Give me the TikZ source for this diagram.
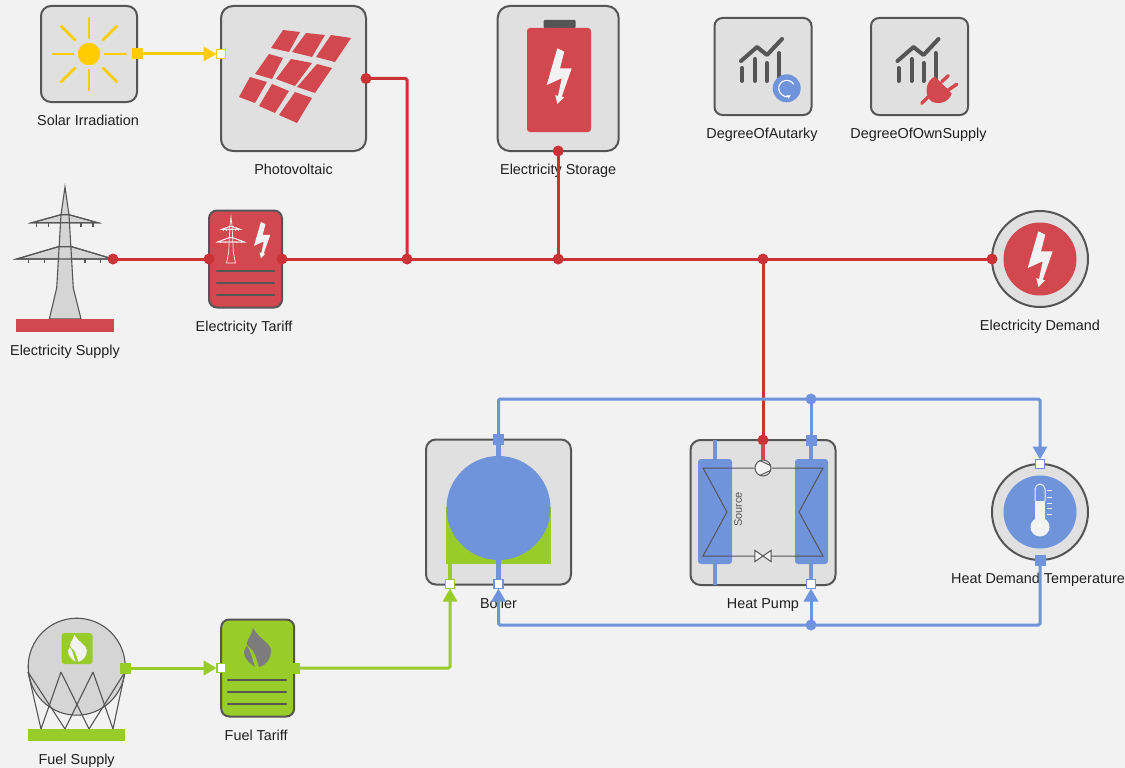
\documentclass[tikz,border=0pt]{standalone}
\usepackage{fontspec}
\setmainfont{Liberation Sans}
\usetikzlibrary{arrows.meta, calc, positioning}

\definecolor{bgcol}{HTML}{F2F2F2}
\definecolor{boxcol}{HTML}{E0E0E0}
\definecolor{darkcol}{HTML}{555555}
\definecolor{redfill}{HTML}{D3484E}
\definecolor{redline}{HTML}{CB3235}
\definecolor{bluecol}{HTML}{6F94DC}
\definecolor{greencol}{HTML}{98CC28}
\definecolor{sunncol}{HTML}{FFCC00}

\begin{document}
\begin{tikzpicture}[
        x=1pt, y=-1pt,
        node distance = 13pt,
        base/.style = {draw=darkcol, line width=2pt, fill=boxcol, outer sep=0pt, inner sep=0pt},
        block/.style = {base, rectangle, rounded corners=#1},
        block/.default = 10pt,
        ring/.style = {base, circle, minimum size=96pt},
        core/.style = {circle, fill=#1, minimum size=73pt, inner sep=0pt},
        lbl/.style = {font=\fontsize{14.4}{16}\selectfont, text=black!88, inner sep=0pt,
                      text height=10.3pt, text depth=3pt},
        portfull/.style = {rectangle, fill=#1, minimum size=11pt, inner sep=0pt, outer sep=-1.5pt},
        portopen/.style = {rectangle, draw=#1, fill=white, line width=1.8pt, minimum size=9pt,
                           inner sep=0pt, outer sep=0pt},
        portdot/.style = {circle, fill=#1, minimum size=11pt, inner sep=0pt, outer sep=-1.5pt},
        conn/.style = {draw=#1, line width=3pt, rounded corners=1.5pt},
        flow/.style = {conn=#1, -{Triangle[length=13pt,width=14pt]}},
        stub/.style = {draw=#1, line width=4.4pt},
        listline/.style = {draw=darkcol, line width=2.4pt, line cap=round},
        cycleline/.style = {draw=darkcol, line width=1pt},
        bolt/.pic = {\path[pic actions] (-1.7,-27.7) -- (5.3,-24.3) -- (1,-7.7) -- (12.7,-7.7)
                -- (2.7,20.7) -- (5,21.3) -- (-1.7,28) -- (-3.7,19) -- (-1,20) -- (2.7,2.3)
                -- (-12.3,9) -- cycle;},
        flame/.pic = {\path[pic actions] (-4,-20) .. controls (-6,-9) and (-14,-6) .. (-8,-1)
                .. controls (-2,3) and (-1,10) .. (2,19) .. controls (10,17) and (14,10) .. (14,3)
                .. controls (14,-5) and (3,-8) .. (-4,-20) -- cycle;
            \path[pic actions] (-10,-2) .. controls (-15,3) and (-14,11) .. (-2,19)
                .. controls (-5,12) and (-5,5) .. (-10,-2) -- cycle;},
        pylon/.pic = {
            \path[pic actions] (-33,-96.3) -- (-4,-104.3) -- (4,-104.3) -- (32.7,-96.3) -- cycle;
            \path[pic actions] (-48.3,-60) -- (-6.7,-72.3) -- (6.7,-72.3) -- (48,-60) -- cycle;
            \path[pic actions] (0,-132) -- (-4,-104) -- (-8.3,-31) -- (-15.7,0) -- (16,0)
                -- (8.3,-31) -- (4,-104) -- cycle;
            \path[pic actions, fill=none] (-33,-96.3) -- (-4,-104.3) -- (4,-104.3) -- (32.7,-96.3) -- cycle;
            \path[pic actions, fill=none] (-48.3,-60) -- (-6.7,-72.3) -- (6.7,-72.3) -- (48,-60) -- cycle;
            \foreach \xa in {-28.3,-16.3,16,28}
                \path[pic actions] (\xa,-96.3) -- ++(0,4);
            \foreach \xa in {-36.7,-20.7,20,35.7}
                \path[pic actions] (\xa,-60) -- ++(0,4);},
        chart/.pic = {
            \foreach \xa/\ya in {0/-13,13/-22,25/-18,37/-28}
                \draw[darkcol, line width=4pt, line cap=round] (\xa,0) -- (\xa,\ya);
            \draw[darkcol, line width=4pt, line cap=round, line join=round]
                (-1,-20) -- (15,-34) -- (25,-26) -- (40,-42);},
        ]
    \useasboundingbox (0,0) rectangle (1125,768);
    \fill[bgcol] (0,0) rectangle (1125,768);

    % sources and storage on top
    \node [block, minimum size=96pt] (solar) at (89,54) {};
    \node [block=12pt, minimum size=145pt] (pv) at (293.5,78.5) {};
    \node [block=12pt, minimum width=121pt, minimum height=145pt] (storage) at (558.2,78.5) {};
    \node [block=8pt, minimum size=97pt] (autarky) at (763,66.5) {};
    \node [block=8pt, minimum size=97pt] (ownsupply) at (919.5,66.5) {};
    \node [lbl, xshift=-1pt, below=of solar] (solarlbl) {Solar Irradiation};
    \node [lbl, below=of pv] (pvlbl) {Photovoltaic};
    \node [lbl, below=of storage] (storagelbl) {Electricity Storage};
    \node [lbl, xshift=-1pt, below=of autarky] (autarkylbl) {DegreeOfAutarky};
    \node [lbl, xshift=-1pt, below=of ownsupply] (ownsupplylbl) {DegreeOfOwnSupply};

    % sun
    \node [circle, fill=sunncol, minimum size=22.6pt, inner sep=0pt] (sun) at (89,54) {};
    \foreach \ang/\ra/\rb in {0/15/38,90/15/37,180/15/37,270/15/37,45/19/40,135/19/40,225/19/40,315/19/40}
        \draw[sunncol, line width=2.6pt] (sun) ++(\ang:\ra) -- ++(\ang:\rb-\ra);

    % panel cells
    \foreach \ax/\ay/\bx/\by/\cx/\cy/\dx/\dy in {283/30/300/32/289/52/271/48, 306/33/325/35/312/57/292/52,
            331/35/351/38/335/62/316/57, 269/54/283/58/272/79/255/74,
            291/59/312/63/295/86/276/79, 317/64/332/68/315/93/297/87,
            250/77/267/82/255/103/239/97, 272/84/289/91/275/113/259/106,
            295/92/312/98/297/123/279/115}
        \fill[redfill] (\ax,\ay) -- (\bx,\by) -- (\cx,\cy) -- (\dx,\dy) -- cycle;

    % battery
    \node [rectangle, fill=darkcol, minimum width=32pt, minimum height=8pt, inner sep=0pt, rounded corners=1pt] (batcap) at (559.5,24) {};
    \node [rectangle, fill=redfill, minimum width=64pt, minimum height=104pt, inner sep=0pt, rounded corners=3pt] (battery) at (559,80) {};
    \pic [fill=bgcol] at (559,76) {bolt};

    % chart icons
    \pic at (742,81) {chart};
    \pic at (898.5,81) {chart};
    \node [circle, fill=bluecol, minimum size=28pt, inner sep=0pt] (refresh) at (786.7,88.3) {};
    \draw[white, line width=1.1pt, -{Stealth[length=4pt,width=4pt]}] (refresh) ++(-30:8) arc (-30:-300:8);
    \fill[redfill] (935,76.5) -- (951.7,93.5) .. controls (949,103) and (936,106) .. (930,100)
        .. controls (924,94) and (926,80) .. (935,76.5) -- cycle;
    \draw[redfill, line width=3.4pt, line cap=round] (941.7,81.7) -- (948.3,75.7) (948.3,90) -- (956.7,84.3) (928.3,96.7) -- (921.7,103.3);

    % grid side
    \pic [draw=darkcol, fill=boxcol!95!black, line width=1.1pt] at (65,319) {pylon};
    \node [rectangle, fill=redfill, minimum width=98pt, minimum height=13pt, inner sep=0pt, outer sep=0pt] (supplybar) at (65,325.5) {};
    \node [lbl, below=of supplybar] (supplylbl) {Electricity Supply};
    \node [block=8pt, fill=redfill, minimum width=73pt, minimum height=97pt] (tariff) at (245.5,259) {};
    \node [lbl, xshift=-1.5pt, below=of tariff] (tarifflbl) {Electricity Tariff};
    \pic [draw=bgcol, line width=.7pt, xscale=.28, yscale=.35] at (231,263) {pylon};
    \pic [fill=bgcol, scale=.65] at (262,240) {bolt};
    \foreach \yy in {271,283,295}
        \draw[listline] (217,\yy) -- (274,\yy);
    \node [ring] (demand) at (1040,259) {};
    \node [core=redfill] (demandcore) at (demand) {};
    \pic [fill=bgcol] at (demand) {bolt};
    \node [lbl, below=of demand] (demandlbl) {Electricity Demand};

    % boiler
    \node [block=10pt, minimum size=145pt] (boiler) at (498.5,512) {};
    \node [lbl, below=of boiler] (boilerlbl) {Boiler};
    \node [rectangle, fill=greencol, minimum width=105pt, minimum height=57pt, inner sep=0pt, outer sep=0pt] (burner) at (498.5,535.5) {};
    \node [circle, fill=bluecol, minimum size=104pt, inner sep=0pt, outer sep=0pt] (vessel) at (498.5,508) {};

    % heat pump
    \node [block=10pt, minimum size=145pt] (heatpump) at (763,512.5) {};
    \node [lbl, below=of heatpump] (heatpumplbl) {Heat Pump};
    \node [rectangle, fill=bluecol, minimum width=34pt, minimum height=105pt, inner sep=0pt, rounded corners=3pt] (hxsource) at (715,511.5) {};
    \node [rectangle, fill=bluecol, minimum width=33pt, minimum height=105pt, inner sep=0pt, rounded corners=3pt] (hxsink) at (811.5,511.5) {};
    \node [rotate=90, font=\fontsize{11}{12}\selectfont, text=darkcol, inner sep=0pt] (sourcelbl) at (738,509.5) {Source};
    \node [circle, draw=darkcol, fill=bgcol, line width=1pt, minimum size=16pt, inner sep=0pt] (compressor) at (763,468) {};
    \node [minimum width=16pt, minimum height=11pt, inner sep=0pt] (valve) at (763,556) {};
    \draw[cycleline] (compressor) -- (823,468) -- (799,512) -- (823,556) -- (valve.east);
    \draw[cycleline] (compressor) -- (703,468) -- (727,512) -- (703,556) -- (valve.west);
    \draw[cycleline, fill=bgcol] (valve.north west) -- (valve.south east) -- (valve.north east) -- (valve.south west) -- cycle;
    \draw[cycleline] (760,460.6) -- (770.5,465.5) (760,475.4) -- (770.5,470.5);
    \draw[stub=bluecol] (heatpump.north -| hxsource) -- (hxsource);
    \draw[stub=bluecol] (heatpump.south -| hxsource) -- (hxsource);

    % temperature sensor
    \node [ring] (tempsensor) at (1040,512) {};
    \node [core=bluecol] (tempcore) at (tempsensor) {};
    \node [circle, fill=bgcol, minimum size=19pt, inner sep=0pt] (bulb) at (1040,527) {};
    \fill[bgcol] (1035,501) rectangle (1045,520);
    \draw[bgcol, line width=1pt] (1035,501) -- (1035,489) arc (180:360:5) -- (1045,501);
    \foreach \yy in {490,497,503,508,514}
        \draw[bgcol, line width=.9pt] (1047,\yy) -- (1052,\yy);
    \node [lbl, xshift=-2pt, below=of tempsensor] (templbl) {Heat Demand Temperature};

    % fuel side
    \node [circle, draw=darkcol, fill=boxcol!95!black, line width=1.1pt, minimum size=97pt, inner sep=0pt] (sphere) at (76.7,666.7) {};
    \foreach \xa/\xb in {28/41,28/65,61/41,61/89,93/65,93/113,125/113,125/89}
        \draw[darkcol, line width=1.1pt] (\xa,672) -- (\xb,729);
    \node [rectangle, fill=greencol, minimum width=31pt, minimum height=31pt, inner sep=0pt, rounded corners=3pt] (fuelicon) at (77,648.5) {};
    \pic [fill=bgcol, scale=.7] at (fuelicon) {flame};
    \node [rectangle, fill=greencol, minimum width=97pt, minimum height=12pt, inner sep=0pt, outer sep=0pt] (fuelbar) at (76.7,735) {};
    \node [lbl, below=of fuelbar] (fuelsupplylbl) {Fuel Supply};
    \node [block=8pt, fill=greencol, minimum width=73pt, minimum height=97pt] (fueltariff) at (257.7,668) {};
    \node [lbl, xshift=-1.5pt, below=of fueltariff] (fueltarifflbl) {Fuel Tariff};
    \pic [fill=darkcol!75!bgcol] at (257,648) {flame};
    \foreach \yy in {680,692,704}
        \draw[listline] (228,\yy) -- (286,\yy);

    % ports
    \node [portfull=sunncol] (solarout) at (solar.east) {};
    \node [portopen=sunncol] (pvin) at (pv.west |- solarout) {};
    \node [portdot=redline] (pvout) at (pv.east) {};
    \node [portdot=redline] (storageport) at (storage.south) {};
    \node [portdot=redline] (supplyout) at (113,259) {};
    \node [portdot=redline] (tariffin) at (tariff.west) {};
    \node [portdot=redline] (tariffout) at (tariff.east) {};
    \node [portdot=redline] (demandin) at (demand.west) {};
    \node [portdot=redline] (busa) at (407,259) {};
    \node [portdot=redline] (busb) at (storageport |- busa) {};
    \node [portdot=redline] (busc) at (763,259) {};
    \node [portdot=redline] (pumpelec) at (heatpump.north) {};
    \node [portfull=bluecol] (boilerhot) at (boiler.north) {};
    \node [portopen=bluecol] (boilerback) at (498.5,584) {};
    \node [portopen=greencol] (boilerfuel) at (450,584) {};
    \node [portfull=bluecol] (pumphot) at (811,440) {};
    \node [portopen=bluecol] (pumpback) at (811,584) {};
    \node [portopen=bluecol] (tempin) at (tempsensor.north) {};
    \node [portfull=bluecol] (tempout) at (tempsensor.south) {};
    \node [portdot=bluecol] (hotjunction) at (811,399) {};
    \node [portdot=bluecol] (backjunction) at (811,625) {};
    \node [portfull=greencol] (fuelout) at (125,668) {};
    \node [portopen=greencol] (fueltariffin) at (fueltariff.west) {};
    \node [portfull=greencol] (fueltariffout) at (fueltariff.east) {};

    % stubs inside the components
    \draw[stub=bluecol] (boilerhot) -- (vessel);
    \draw[stub=bluecol] (boilerback) -- (vessel);
    \draw[stub=greencol] (boilerfuel) -- (boilerfuel |- burner.south);
    \draw[stub=redfill] (pumpelec) -- (compressor);
    \draw[stub=bluecol] (pumphot) -- (pumphot |- hxsink.north);
    \draw[stub=bluecol] (pumpback) -- (pumpback |- hxsink.south);

    % connections
    \draw[flow=sunncol] (solarout) -- (pvin);
    \draw[conn=redline] (pvout) -| (busa);
    \draw[conn=redline] (storageport) -- (busb);
    \draw[conn=redline] (supplyout) -- (tariffin);
    \draw[conn=redline] (tariffout) -- (busa);
    \draw[conn=redline] (busa) -- (busb);
    \draw[conn=redline] (busb) -- (busc);
    \draw[conn=redline] (busc) -- (demandin);
    \draw[conn=redline] (busc) -- (pumpelec);
    \draw[conn=bluecol] (boilerhot) |- (hotjunction);
    \draw[conn=bluecol] (hotjunction) -- (pumphot);
    \draw[flow=bluecol] (hotjunction) -| (tempin);
    \draw[conn=bluecol] (tempout) |- (backjunction);
    \draw[flow=bluecol] (backjunction) -- (pumpback);
    \draw[flow=bluecol] (backjunction) -| (boilerback);
    \draw[flow=greencol] (fuelout) -- (fueltariffin);
    \draw[flow=greencol] (fueltariffout) -| (boilerfuel);
\end{tikzpicture}
\end{document}
